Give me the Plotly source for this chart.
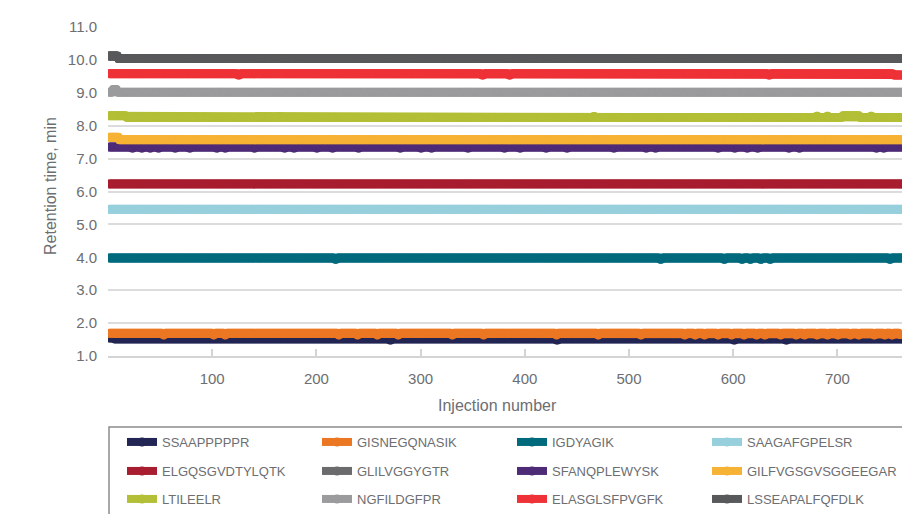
import numpy as np
import plotly.graph_objects as go

# ---- data ----
N_INJ = 775
injections = list(range(1, N_INJ + 1))

peptides = ["SSAAPPPPPR", "GISNEGQNASIK", "IGDYAGIK", "SAAGAFGPELSR",
            "ELGQSGVDTYLQTK", "GLILVGGYGTR", "SFANQPLEWYSK", "GILFVGSGVSGGEEGAR",
            "LTILEELR", "NGFILDGFPR", "ELASGLSFPVGFK", "LSSEAPALFQFDLK"]
colors = ["#232654", "#ec7723", "#006a7d", "#97d0dc",
          "#a81d2f", "#6b6b6d", "#4e2b77", "#f6b234",
          "#b3bf36", "#9b9b9d", "#ee3237", "#58595b"]

# typical (plateau) retention time of each peptide, min
base_rt = [1.52, 1.69, 3.98, 5.46, 6.23, 10.04, 7.35, 7.57, 8.25, 9.02, 9.58, 10.04]

# departures from the plateau: (first injection, last injection, retention time)
rt_events = [
    [(1, 5, 1.55), (270, 272, 1.49), (430, 432, 1.49), (600, 602, 1.49), (650, 652, 1.49)],
    [(53, 54, 1.64), (101, 102, 1.64), (112, 113, 1.64), (221, 222, 1.64), (239, 240, 1.64),
     (258, 259, 1.64), (278, 279, 1.64), (330, 331, 1.64), (360, 361, 1.64), (430, 431, 1.64),
     (470, 471, 1.64), (511, 512, 1.64), (553, 554, 1.64), (563, 564, 1.64), (572, 573, 1.64),
     (585, 586, 1.64), (598, 599, 1.64), (610, 611, 1.64), (622, 623, 1.64), (630, 631, 1.64),
     (645, 646, 1.64), (660, 661, 1.64), (668, 669, 1.64), (680, 681, 1.64), (690, 691, 1.64),
     (700, 701, 1.64), (712, 713, 1.64), (720, 721, 1.64), (735, 736, 1.64), (745, 746, 1.64),
     (752, 753, 1.64), (760, 775, 1.65)],
    [(218, 219, 3.94), (530, 531, 3.94), (591, 592, 3.94), (608, 609, 3.94), (616, 617, 3.94),
     (626, 627, 3.94), (635, 636, 3.94), (750, 751, 3.94)],
    [],
    [],
    [(1, 9, 10.12)],
    [(23, 24, 7.32), (32, 33, 7.32), (40, 41, 7.32), (48, 49, 7.32), (64, 65, 7.32),
     (78, 79, 7.32), (104, 105, 7.32), (112, 113, 7.32), (140, 141, 7.32), (169, 170, 7.32),
     (178, 179, 7.32), (200, 201, 7.32), (215, 216, 7.32), (240, 241, 7.32), (280, 281, 7.32),
     (300, 301, 7.32), (310, 311, 7.32), (345, 346, 7.32), (380, 381, 7.32), (395, 396, 7.32),
     (420, 421, 7.32), (440, 441, 7.32), (485, 486, 7.32), (516, 517, 7.32), (525, 526, 7.32),
     (585, 586, 7.32), (601, 602, 7.32), (613, 614, 7.32), (623, 624, 7.32), (653, 654, 7.32),
     (663, 664, 7.32), (737, 738, 7.32), (744, 745, 7.32)],
    [(1, 10, 7.65)],
    [(1, 17, 8.30), (164, 165, 8.28), (466, 467, 8.28), (680, 681, 8.29), (690, 691, 8.29),
     (705, 721, 8.30), (732, 733, 8.29)],
    [(5, 8, 9.10)],
    [(125, 126, 9.54), (359, 360, 9.54), (385, 386, 9.54), (634, 635, 9.54), (754, 775, 9.54)],
    [(1, 9, 10.12)],
]

x_tickvals = [0, 100, 200, 300, 400, 500, 600, 700]
x_ticktext = ["", "100", "200", "300", "400", "500", "600", "700"]
y_tickvals = [1.0, 2.0, 3.0, 4.0, 5.0, 6.0, 7.0, 8.0, 9.0, 10.0, 11.0]

# ---- figure ----
W, H = 902, 514
ML, MR, MT, MB = 108, 0, 27, 158
PW, PH = W - ML - MR, H - MT - MB

def paper_x(px):
    return (px - ML) / PW

def paper_y(py):
    return (H - MB - py) / PH

legend_names = ["legend", "legend2", "legend3"]
text_col = "#6d6e71"
font_family = "Liberation Sans, Arial, sans-serif"

fig = go.Figure()
inj = np.array(injections)
for i, name in enumerate(peptides):
    y = np.full(len(inj), base_rt[i])
    for a, b, v in rt_events[i]:
        y[(inj >= a) & (inj <= b)] = v
    fig.add_trace(go.Scatter(
        x=injections, y=y.tolist(), name=name, mode="lines+markers",
        line=dict(color=colors[i], width=8),
        marker=dict(color=colors[i], size=9),
        legend=legend_names[i // 4],
    ))

row_y = [442, 471, 499]
leg_common = dict(orientation="h", entrywidth=150, entrywidthmode="pixels",
                  font=dict(size=13, color=text_col, family=font_family),
                  bgcolor="rgba(0,0,0,0)", borderwidth=0,
                  xanchor="left", yanchor="middle", traceorder="normal",
                  itemwidth=30, tracegroupgap=0)
legends = {}
for k, ln in enumerate(legend_names):
    legends[ln] = dict(x=paper_x(122), y=paper_y(row_y[k]), **leg_common)

fig.update_layout(
    width=W, height=H,
    margin=dict(l=ML, r=MR, t=MT, b=MB),
    paper_bgcolor="white", plot_bgcolor="white",
    font=dict(family=font_family, color=text_col),
    showlegend=True,
    xaxis=dict(range=[0, 762], tickvals=x_tickvals, ticktext=x_ticktext,
               showgrid=False, zeroline=False, showline=True,
               linecolor="#d4d4d4", linewidth=1.5,
               ticks="inside", ticklen=7, tickcolor="#d4d4d4", tickwidth=1.5,
               tickfont=dict(size=15, color=text_col), ticklabelstandoff=8),
    yaxis=dict(range=[1, 11], tickvals=y_tickvals, tickformat=".1f",
               showgrid=True, gridcolor="#dcdcdc", gridwidth=1.5,
               zeroline=False, showline=False, ticks="",
               tickfont=dict(size=15, color=text_col), ticklabelstandoff=10),
    annotations=[
        dict(text="Injection number", xref="paper", yref="paper",
             x=paper_x(497), y=paper_y(405), xanchor="center", yanchor="middle",
             showarrow=False, font=dict(size=16, color=text_col)),
        dict(text="Retention time, min", xref="paper", yref="paper",
             x=paper_x(50), y=paper_y(186), xanchor="center", yanchor="middle",
             textangle=-90, showarrow=False, font=dict(size=16, color=text_col)),
    ],
    shapes=[dict(type="rect", xref="paper", yref="paper",
                 x0=paper_x(109), x1=paper_x(930), y0=paper_y(427), y1=paper_y(540),
                 line=dict(color="#8c8c8c", width=1.5), fillcolor="rgba(0,0,0,0)")],
    **legends,
)

fig.write_html("out.html",
               config={"displayModeBar": False},
               post_script="document.body.style.margin='0';"
                           "document.body.style.overflow='hidden';")
